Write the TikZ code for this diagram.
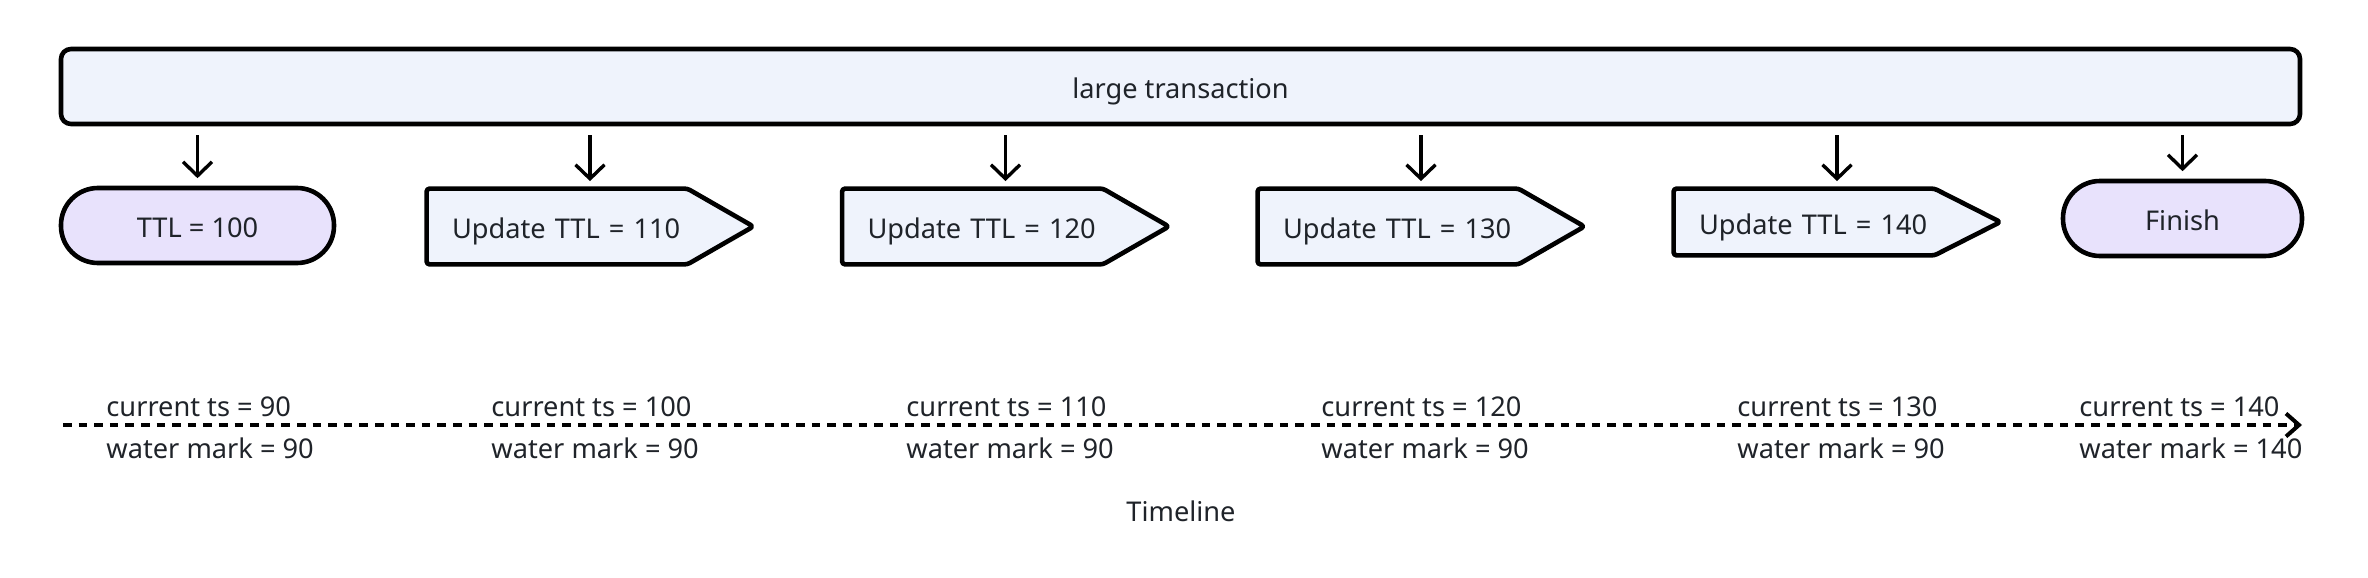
\documentclass[tikz,border=0pt]{standalone}
\usepackage{fontspec}
\setmainfont{Noto Sans}
\usetikzlibrary{arrows.meta,calc,backgrounds}
\definecolor{bluefill}{RGB}{239,243,252}
\definecolor{purplefill}{RGB}{232,226,252}
\definecolor{txt}{RGB}{31,35,41}
\newcommand{\dn}[1]{\raisebox{-6.2pt}[0pt][0pt]{#1}}
\begin{document}
\begin{tikzpicture}[x=0.5pt,y=-0.5pt,
  every node/.style={font=\fontsize{13.6pt}{16pt}\selectfont, text=txt},
  bigbox/.style={draw=black, line width=2.3pt, fill=bluefill, rounded corners=5pt,
    minimum width=1119.5pt, minimum height=37.5pt, inner sep=0pt},
  pill/.style={draw=black, line width=2.3pt, fill=purplefill, rounded corners=18.5pt,
    minimum height=37.5pt, inner sep=0pt},
  sig/.style={inner xsep=12.5pt, inner ysep=0pt, text width=138pt, align=left,
    minimum height=37.5pt},
  sigshape/.style={draw=black, fill=bluefill, line width=2.3pt, rounded corners=1.5pt,
    line join=round},
  arr/.style={line width=1.7pt, -{Straight Barb[length=7pt,width=14.5pt]}},
  tline/.style={line width=2pt, dash pattern=on 4.3pt off 3.5pt,
    -{Straight Barb[length=6.5pt,width=11.5pt]}},
  lbl/.style={anchor=base west, inner sep=0pt}
]
\useasboundingbox (0,0) rectangle (2368,578);

\node[bigbox] (big) at (1180.5,86.5) {\dn{large transaction}};

\node[pill, minimum width=136.5pt] (t100) at (197.5,225.5) {\dn{TTL = 100}};
\node[sig] (u1) at (590,226.5) {\dn{Update TTL = 110}};
\node[sig] (u2) at (1005.5,226.5) {\dn{Update TTL = 120}};
\node[sig] (u3) at (1421,226.5) {\dn{Update TTL = 130}};
\node[sig, minimum height=33pt] (u4) at (1837,222) {\dn{Update TTL = 140}};
\node[pill, minimum width=119.5pt] (fin) at (2182.5,218.5) {\raisebox{-5.8pt}[0pt][0pt]{Finish}};

\begin{scope}[on background layer]
\foreach \n in {u1,u2,u3,u4}{
  \draw[sigshape] (\n.north west) -- ([xshift=-33pt]\n.north east) -- (\n.east)
    -- ([xshift=-33pt]\n.south east) -- (\n.south west) -- cycle;
}
\end{scope}

\foreach \n in {t100,u1,u2,u3,u4,fin}{
  \draw[arr] ($(big.south -| \n.north)+(0,9)$) -- ($(\n.north)+(0,-7.5)$);
}

\coordinate (tls) at (63,425);
\coordinate (tle) at (2302,425);
\draw[tline] (tls) -- (tle);

\node[lbl] (c1) at (106,416) {current ts = 90};
\node[lbl] (w1) at (106,458) {water mark = 90};
\node[lbl] (c2) at (491,416) {current ts = 100};
\node[lbl] (w2) at (491,458) {water mark = 90};
\node[lbl] (c3) at (906,416) {current ts = 110};
\node[lbl] (w3) at (906,458) {water mark = 90};
\node[lbl] (c4) at (1321,416) {current ts = 120};
\node[lbl] (w4) at (1321,458) {water mark = 90};
\node[lbl] (c5) at (1737,416) {current ts = 130};
\node[lbl] (w5) at (1737,458) {water mark = 90};
\node[lbl] (c6) at (2079,416) {current ts = 140};
\node[lbl] (w6) at (2079,458) {water mark = 140};

\node[anchor=base, inner sep=0pt] (tl) at (1181,521) {Timeline};
\end{tikzpicture}
\end{document}
